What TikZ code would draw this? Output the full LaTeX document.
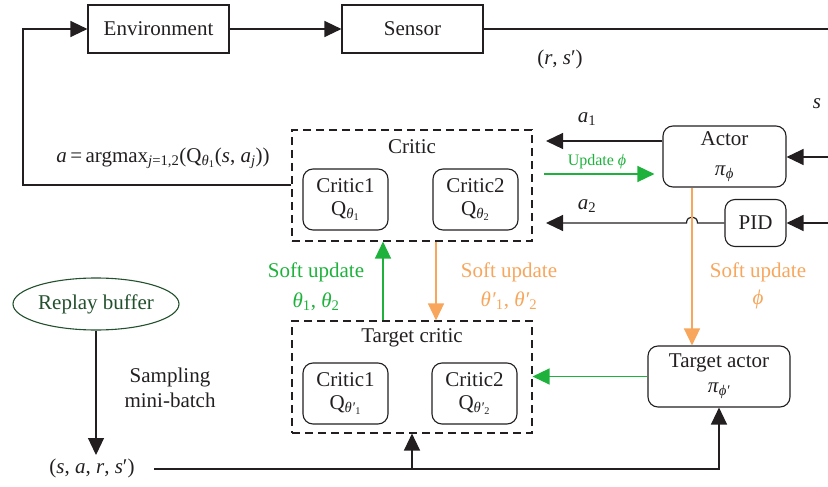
\documentclass[tikz,border=0pt]{standalone}
\usepackage{fontspec}
\setmainfont{Liberation Serif}
\usetikzlibrary{arrows.meta,shapes.geometric}
\definecolor{gr}{RGB}{30,178,60}
\definecolor{org}{RGB}{247,166,92}
\definecolor{dgr}{RGB}{35,80,45}
\definecolor{ink}{RGB}{35,31,32}
\newcommand{\ital}[1]{\textit{#1}}
\newcommand{\lo}[1]{\textsubscript{#1}}
\begin{document}
\begin{tikzpicture}[x=1pt,y=-1pt,
  font=\fontsize{21}{23}\selectfont, text=ink,
  box/.style={draw=ink, line width=1.1pt, rectangle, inner sep=0pt},
  rbox/.style={box, rounded corners=10pt, align=center},
  dbox/.style={draw=ink, line width=1.1pt, dash pattern=on 8pt off 5pt, inner sep=0pt},
  ln/.style={draw=ink, line width=1.2pt},
  arr/.style={ln, -{Triangle[length=17pt,width=16pt]}},
  garr/.style={draw=gr, line width=1.4pt, -{Triangle[length=17pt,width=16pt]}},
  oarr/.style={draw=org, line width=1.4pt, -{Triangle[length=17pt,width=16pt]}},
  lbl/.style={inner sep=0pt}]
\useasboundingbox (0,0) rectangle (828,487);

% top row
\node[box, minimum width=141pt, minimum height=48pt] (env) at (158.5,29) {Environment};
\node[box, minimum width=141pt, minimum height=48pt] (sensor) at (412.5,29) {Sensor};
\coordinate (sEnd) at (828,29);
\draw[arr] (env.east) -- (sensor.west);
\draw[ln] (sensor.east) -- (sEnd);
\node[lbl] (rs) at (560,59) {(\ital{r}, \ital{s}′)};
\node[lbl] (s) at (817,104) {\ital{s}};

% critic
\node[dbox, minimum width=240pt, minimum height=111pt] (critic) at (412,185.5) {};
\node[lbl] (critictitle) at (412,147) {Critic};
\node[rbox, minimum width=85pt, minimum height=61pt] (c1) at (345.5,199.5) {Critic1\\Q\lo{\ital{θ}\lo{1}}};
\node[rbox, minimum width=85pt, minimum height=61pt] (c2) at (475.5,199.5) {Critic2\\Q\lo{\ital{θ}\lo{2}}};

% loop to environment
\coordinate (loopA) at (23,185);
\coordinate (loopB) at (23,29);
\draw[arr] (critic.west |- loopA) -- (loopA) -- (loopB) -- (env.west);
\node[lbl] (argmax) at (163,158) {\ital{a}\,=\,argmax\lo{\ital{j}=1,2}(Q\lo{\ital{θ}\lo{1}}(\ital{s}, \ital{a}\lo{\ital{j}}))};

% actor and PID
\node[rbox, minimum width=123pt, minimum height=61pt] (actor) at (724.5,156.5) {Actor\\[7pt]\ital{π}\lo{\ital{ϕ}}};
\node[rbox, minimum width=61pt, minimum height=47pt] (pid) at (755.5,223) {PID};
\coordinate (inA) at (828,157);
\coordinate (inP) at (828,223);
\draw[arr] (inA) -- (actor.east |- inA);
\draw[arr] (inP) -- (pid.east);

\coordinate (a1end) at (546,141);
\draw[arr] (actor.west |- a1end) -- (a1end);
\node[lbl] (a1) at (587,119) {\ital{a}\lo{1}};

\coordinate (upS) at (544,174);
\draw[garr, shorten >=8pt] (upS) -- (actor.west |- upS);
\node[lbl, text=gr, font=\fontsize{16}{18}\selectfont] (upd) at (597,162) {Update \ital{ϕ}};

\coordinate (hopR) at (697.5,223);
\coordinate (hopL) at (686.5,223);
\coordinate (a2end) at (546,223);
\draw[arr] (pid.west) -- (hopR) .. controls (697.5,215) and (686.5,215) .. (hopL) -- (a2end);
\node[lbl] (a2) at (587,206) {\ital{a}\lo{2}};

% target critic
\node[dbox, minimum width=240pt, minimum height=112pt] (tcrit) at (412,377) {};
\node[lbl] (tcrittitle) at (412,338) {Target critic};
\node[rbox, minimum width=85pt, minimum height=61pt] (tc1) at (345.5,393.5) {Critic1\\Q\lo{\ital{θ′}\lo{1}}};
\node[rbox, minimum width=85pt, minimum height=61pt] (tc2) at (474.5,393.5) {Critic2\\Q\lo{\ital{θ′}\lo{2}}};

% target actor
\node[rbox, minimum width=142pt, minimum height=61pt] (tact) at (719,376.5) {Target actor\\[2pt]\ital{π}\lo{\ital{ϕ′}}};
\draw[garr] (tact.west) -- (tcrit.east |- tact.west);

% soft updates
\coordinate (gx) at (383,0);
\coordinate (ox) at (436,0);
\coordinate (oax) at (692,0);
\draw[garr] (gx |- tcrit.north) -- (gx |- critic.south);
\draw[oarr] (ox |- critic.south) -- (ox |- tcrit.north);
\draw[oarr] (oax |- actor.south) -- (oax |- tact.north);
\node[lbl, text=gr] (gs1) at (316,272) {Soft update};
\node[lbl, text=gr] (gs2) at (316,302) {\ital{θ}\lo{1}, \ital{θ}\lo{2}};
\node[lbl, text=org] (os1) at (509,272) {Soft update};
\node[lbl, text=org] (os2) at (509,301) {\ital{θ′}\lo{1}, \ital{θ′}\lo{2}};
\node[lbl, text=org] (oa1) at (758,272) {Soft update};
\node[lbl, text=org] (oa2) at (758,299) {\ital{ϕ}};

% replay buffer
\node[ellipse, draw=dgr, line width=1.1pt, text=dgr, minimum width=166pt, minimum height=52pt, inner sep=0pt] (rb) at (96,304) {Replay buffer};
\node[lbl] (batch) at (92,468) {(\ital{s}, \ital{a}, \ital{r}, \ital{s}′)};
\draw[arr] (rb.south) -- (rb.south |- 0,455);
\node[lbl, align=center, font=\fontsize{21}{25}\selectfont] (samp) at (170,388) {Sampling\\mini-batch};

\coordinate (bl) at (154,469);
\draw[arr] (bl) -| (tact.south);
\draw[arr] (tcrit.south |- bl) -- (tcrit.south);
\end{tikzpicture}
\end{document}
